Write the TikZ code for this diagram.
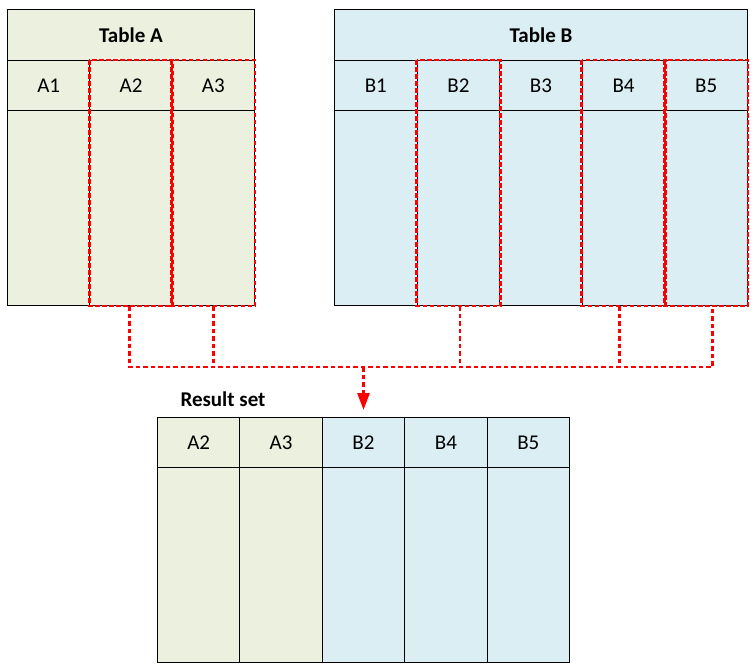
\documentclass[tikz,border=0pt]{standalone}
\usepackage{fontspec}
\setmainfont{Carlito}
\usetikzlibrary{arrows.meta}
\definecolor{gA}{HTML}{EBF1DE}
\definecolor{bB}{HTML}{DAEEF3}
\definecolor{hred}{HTML}{FF0000}
\begin{document}
\begin{tikzpicture}[x=1pt,y=-1pt,
  cell/.style={draw=black, line width=1pt, anchor=north west, inner sep=0pt,
    minimum height=50pt, font=\fontsize{21}{24}\selectfont},
  title/.style={cell, minimum height=51pt, font=\fontsize{21}{24}\selectfont\bfseries},
  hl/.style={draw=hred, line width=2.7pt, dash pattern=on 4.5pt off 2.5pt},
  conn/.style={draw=hred, line width=2.7pt, dash pattern=on 4.5pt off 3pt}]
\useasboundingbox (0,0) rectangle (755,672);
% Table A
\node[title, fill=gA, minimum width=247pt] (TA) at (7,9) {Table A};
\foreach \n [count=\i from 0] in {A1,A2,A3} {
  \node[cell, fill=gA, minimum width=82.33pt] (h\n) at ({7+\i*82.33},60) {\n};
  \node[cell, fill=gA, minimum width=82.33pt, minimum height=195pt] (b\n) at ({7+\i*82.33},110) {};
}
% Table B
\node[title, fill=bB, minimum width=413pt] (TB) at (334,9) {Table B};
\foreach \n [count=\i from 0] in {B1,B2,B3,B4,B5} {
  \node[cell, fill=bB, minimum width=82.6pt] (h\n) at ({334+\i*82.6},60) {\n};
  \node[cell, fill=bB, minimum width=82.6pt, minimum height=195pt] (b\n) at ({334+\i*82.6},110) {};
}
% Result set
\node[font=\fontsize{21}{24}\selectfont\bfseries] (RS) at (223,399) {Result set};
\foreach \n/\c [count=\i from 0] in {A2/gA,A3/gA,B2/bB,B4/bB,B5/bB} {
  \node[cell, fill=\c, minimum width=82.4pt] (r\n) at ({157+\i*82.4},417) {\n};
  \node[cell, fill=\c, minimum width=82.4pt, minimum height=195pt] (rb\n) at ({157+\i*82.4},467) {};
}
% highlights
\foreach \n in {A2,A3,B2,B4,B5} {
  \draw[hl] (h\n.north west) rectangle (b\n.south east);
}
% connector feet
\coordinate (fA2) at ([xshift=-1.5pt]bA2.south);
\coordinate (fA3) at (bA3.south);
\coordinate (fB2) at ([xshift=1.5pt]bB2.south);
\coordinate (fB4) at ([xshift=-4pt]bB4.south);
\coordinate (fB5) at ([xshift=6pt]bB5.south);
\coordinate (j) at (rB2.north |- 0,367);
\draw[conn] (fA2) |- (fB5 |- j) -- (fB5);
\foreach \n in {A3,B2,B4} {
  \draw[conn] (f\n) -- (f\n |- j);
}
\draw[conn, -{Triangle[width=12pt,length=17pt]}, shorten >=7pt] (j) -- (rB2.north);
\end{tikzpicture}
\end{document}
